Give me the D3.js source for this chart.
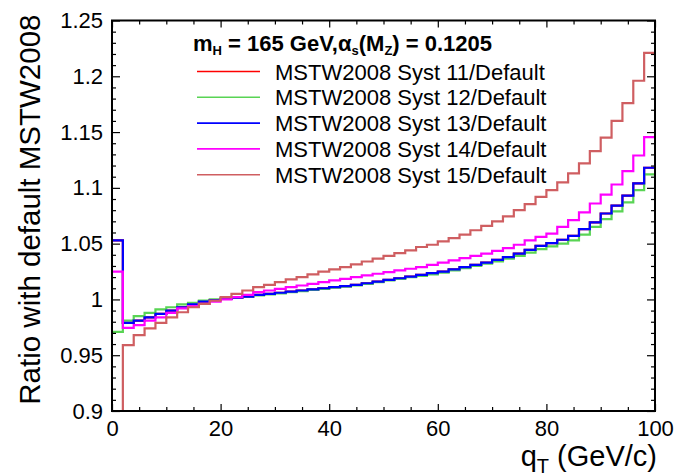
<!DOCTYPE html>
<html><head><meta charset="utf-8">
<script src="https://cdn.jsdelivr.net/npm/d3@7"></script>
<style>
body{margin:0;background:#fff}
svg text{font-family:"Liberation Sans",Arial,Helvetica,sans-serif;fill:#000}
</style>
</head><body>
<svg id="chart" width="675" height="476"></svg>
<script>
// ---------------- data ----------------
const binEdges = [0,2,4,6,8,10,12,14,16,18,20,22,24,26,28,30,32,34,36,38,40,42,44,46,48,50,
  52,54,56,58,60,62,64,66,68,70,72,74,76,78,80,82,84,86,88,90,92,94,96,98,100];

const seriesNames = ["MSTW2008 Syst 11/Default","MSTW2008 Syst 12/Default","MSTW2008 Syst 13/Default",
  "MSTW2008 Syst 14/Default","MSTW2008 Syst 15/Default"];

const syst11 = [1.053,0.979,0.981,0.984,0.987,0.990,0.993,0.9955,0.998,0.9995,
  1.0005,1.0015,1.0025,1.004,1.005,1.006,1.007,1.008,1.009,1.010,
  1.011,1.012,1.013,1.0145,1.016,1.0175,1.019,1.0205,1.022,1.0235,
  1.025,1.027,1.029,1.031,1.033,1.0355,1.038,1.041,1.0445,1.048,
  1.0505,1.0535,1.057,1.063,1.069,1.077,1.084,1.093,1.104,1.118];

const syst12 = [0.971,0.981,0.985,0.988,0.991,0.993,0.9955,0.997,0.999,1.000,
  1.001,1.0015,1.0025,1.0035,1.0045,1.0055,1.0065,1.0075,1.0085,1.0095,
  1.0105,1.0115,1.0125,1.014,1.0155,1.017,1.0185,1.020,1.021,1.0225,
  1.024,1.026,1.028,1.030,1.032,1.034,1.0365,1.039,1.042,1.045,
  1.0475,1.050,1.053,1.058,1.065,1.072,1.079,1.087,1.098,1.112];

const syst13 = [1.053,0.979,0.981,0.984,0.987,0.990,0.993,0.9955,0.998,0.9995,
  1.0005,1.0015,1.0025,1.004,1.005,1.006,1.007,1.008,1.009,1.010,
  1.011,1.012,1.013,1.0145,1.016,1.0175,1.019,1.0205,1.022,1.0235,
  1.025,1.027,1.029,1.031,1.033,1.0355,1.038,1.041,1.0445,1.048,
  1.0505,1.0535,1.057,1.063,1.069,1.077,1.084,1.093,1.104,1.118];

const syst14 = [1.025,0.9745,0.977,0.981,0.984,0.988,0.992,0.994,0.996,0.998,
  1.000,1.002,1.004,1.0065,1.008,1.0095,1.011,1.0125,1.014,1.0155,
  1.017,1.0185,1.020,1.0215,1.023,1.0245,1.026,1.0275,1.029,1.031,
  1.033,1.035,1.037,1.039,1.041,1.0435,1.046,1.049,1.053,1.056,
  1.059,1.065,1.071,1.078,1.086,1.094,1.103,1.115,1.129,1.1455];

const syst15 = [0.88,0.959,0.968,0.974,0.979,0.984,0.9885,0.993,0.996,0.999,
  1.002,1.005,1.008,1.011,1.013,1.0155,1.018,1.020,1.0225,1.025,
  1.027,1.029,1.0315,1.034,1.0365,1.039,1.0415,1.044,1.047,1.049,
  1.052,1.055,1.058,1.062,1.066,1.070,1.0745,1.080,1.0855,1.092,
  1.098,1.105,1.113,1.122,1.133,1.145,1.160,1.176,1.196,1.221];

const seriesColors = ["#ff0000","#59d454","#0000ff","#ff00ff","#cf5e61"];

const xTickValues = [0,20,40,60,80,100];
const xTickLabels = ["0","20","40","60","80","100"];
const yTickValues = [0.9,0.95,1.0,1.05,1.1,1.15,1.2,1.25];
const yTickLabels = ["0.9","0.95","1","1.05","1.1","1.15","1.2","1.25"];

const xTitle = "q_T (GeV/c)";
const yTitle = "Ratio with default MSTW2008";

// ---------------- layout ----------------
const L = 112, R = 655, T = 20.5, B = 411;
const svg = d3.select("#chart");

const x = d3.scaleLinear().domain([0,100]).range([L,R]);
const y = d3.scaleLinear().domain([0.9,1.25]).range([B,T]).clamp(true);

svg.append("defs").append("clipPath").attr("id","plotclip")
  .append("rect").attr("x",L).attr("y",T-1).attr("width",R-L+1).attr("height",B-T+2);

// histograms
const allSeries = [syst11, syst12, syst13, syst14, syst15];
const line = d3.line().x(d=>x(d[0])).y(d=>y(d[1])).curve(d3.curveStepAfter);
const gH = svg.append("g").attr("clip-path","url(#plotclip)");
allSeries.forEach((vals,i)=>{
  const pts = vals.map((v,k)=>[binEdges[k], v]);
  pts.push([binEdges[binEdges.length-1], vals[vals.length-1]]);
  gH.append("path").attr("d", line(pts))
    .attr("fill","none").attr("stroke",seriesColors[i]).attr("stroke-width",2.2)
    .attr("stroke-linejoin","miter");
});

// axes
const fmtX = d => xTickLabels[xTickValues.indexOf(d)];
const fmtY = d => yTickLabels[yTickValues.findIndex(v=>Math.abs(v-d)<1e-9)];
function style(g){ g.select(".domain").remove(); g.selectAll("line").attr("stroke","#000").attr("stroke-width",1.2); }

const xMinor = d3.range(0,101,5).filter(v=>v%20!==0);
const yMinor = d3.range(0,36).map(i=>0.9+i*0.01).filter((v,i)=>i%5!==0);

svg.append("g").attr("transform",`translate(0,${B})`)
  .call(d3.axisBottom(x).tickValues(xTickValues).tickFormat(fmtX).tickSizeInner(-7).tickSizeOuter(0).tickPadding(9))
  .call(style).call(g=>g.selectAll("text").attr("font-size",22).attr("font-family",null));
svg.append("g").attr("transform",`translate(0,${B})`)
  .call(d3.axisBottom(x).tickValues(xMinor).tickFormat("").tickSizeInner(-4).tickSizeOuter(0)).call(style);
svg.append("g").attr("transform",`translate(0,${T})`)
  .call(d3.axisTop(x).tickValues(xTickValues).tickFormat("").tickSizeInner(-7).tickSizeOuter(0)).call(style);
svg.append("g").attr("transform",`translate(0,${T})`)
  .call(d3.axisTop(x).tickValues(xMinor).tickFormat("").tickSizeInner(-4).tickSizeOuter(0)).call(style);
svg.append("g").attr("transform",`translate(${L},0)`)
  .call(d3.axisLeft(y).tickValues(yTickValues).tickFormat(fmtY).tickSizeInner(-8).tickSizeOuter(0).tickPadding(9))
  .call(style).call(g=>g.selectAll("text").attr("font-size",22).attr("font-family",null));
svg.append("g").attr("transform",`translate(${L},0)`)
  .call(d3.axisLeft(y).tickValues(yMinor).tickFormat("").tickSizeInner(-4).tickSizeOuter(0)).call(style);
svg.append("g").attr("transform",`translate(${R},0)`)
  .call(d3.axisRight(y).tickValues(yTickValues).tickFormat("").tickSizeInner(-8).tickSizeOuter(0)).call(style);
svg.append("g").attr("transform",`translate(${R},0)`)
  .call(d3.axisRight(y).tickValues(yMinor).tickFormat("").tickSizeInner(-4).tickSizeOuter(0)).call(style);

svg.append("rect").attr("x",L).attr("y",T).attr("width",R-L).attr("height",B-T)
  .attr("fill","none").attr("stroke","#000").attr("stroke-width",2);

// axis titles
svg.append("text").attr("transform",`translate(40,${T-6}) rotate(-90)`)
  .attr("text-anchor","end").attr("font-size",29.5).text(yTitle);

const [xq, xrest] = xTitle.split("_T");
const xt = svg.append("text").attr("x",657).attr("y",466).attr("text-anchor","end").attr("font-size",29);
xt.append("tspan").text(xq);
xt.append("tspan").attr("font-size",20).attr("dy",7).text("T");
xt.append("tspan").attr("dy",-7).text(xrest);

// legend header
const hd = svg.append("text").attr("x",193).attr("y",51).attr("font-size",22).attr("font-weight","bold");
hd.append("tspan").text("m");
hd.append("tspan").attr("font-size",13).attr("dy",4).text("H");
hd.append("tspan").attr("dy",-4).text(" = 165 GeV,");
hd.append("tspan").text("\u03B1");
hd.append("tspan").attr("font-size",13).attr("dy",4).text("s");
hd.append("tspan").attr("dy",-4).text("(M");
hd.append("tspan").attr("font-size",13).attr("dy",4).text("Z");
hd.append("tspan").attr("dy",-4).text(") = 0.1205");

// legend entries
const legY0 = 71.5, legDY = 25.8;
seriesNames.forEach((name,i)=>{
  const yy = legY0 + i*legDY;
  svg.append("line").attr("x1",197).attr("x2",260).attr("y1",yy).attr("y2",yy)
    .attr("stroke",seriesColors[i]).attr("stroke-width",1.6);
  svg.append("text").attr("x",275).attr("y",yy+8).attr("font-size",22).text(name);
});
</script>
</body></html>
